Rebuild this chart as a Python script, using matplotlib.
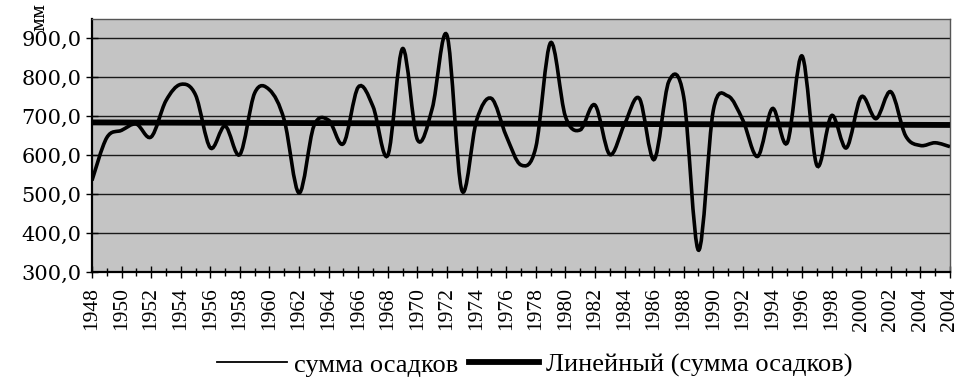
import numpy as np
import matplotlib
matplotlib.use("Agg")
import matplotlib.pyplot as plt
from matplotlib.path import Path
from matplotlib.patches import PathPatch
from matplotlib.lines import Line2D

# annual precipitation sum (mm), one value per category on the x axis
precip = [
    535, 645, 664, 680, 647, 740, 782, 755, 619, 675,
    602, 760, 768, 690, 503, 675, 690, 630, 775, 725,
    600, 874, 640, 720, 908, 510, 690, 746, 650, 575,
    620, 889, 700, 665, 729, 602, 680, 746, 589, 790,
    750, 356, 715, 752, 690, 597, 720, 632, 855, 574,
    702, 619, 750, 694, 763, 650, 625, 632, 622,
]

# category labels as printed under the axis (every second category)
tick_labels = [
    "1948", "1950", "1952", "1954", "1956", "1958", "1960", "1962",
    "1964", "1966", "1968", "1970", "1972", "1974", "1976", "1978",
    "1980", "1982", "1984", "1986", "1988", "1990", "1992", "1994",
    "1996", "1998", "2000", "2002", "2004", "2004",
]

y_ticks = [300, 400, 500, 600, 700, 800, 900]
y_tick_labels = ["300,0", "400,0", "500,0", "600,0", "700,0", "800,0", "900,0"]

series_name = "сумма осадков"
trend_name = "Линейный (сумма осадков)"


def smooth_path(x, y):
    """
    Excel-like smoothed line: cubic bezier through every point
    (catmull-rom control points).
    """
    pts = np.column_stack([x, y]).astype(float)
    n = len(pts)
    verts = [pts[0]]
    codes = [Path.MOVETO]
    for i in range(n - 1):
        p0 = pts[max(i - 1, 0)]
        p1 = pts[i]
        p2 = pts[i + 1]
        p3 = pts[min(i + 2, n - 1)]
        c1 = p1 + (p2 - p0) / 6.0
        c2 = p2 - (p3 - p1) / 6.0
        verts += [c1, c2, p2]
        codes += [Path.CURVE4, Path.CURVE4, Path.CURVE4]
    return Path(verts, codes)


def main():
    plt.rcParams["font.family"] = ["Liberation Serif", "DejaVu Serif"]

    x = np.arange(len(precip))
    vals = np.array(precip, dtype=float)

    fig = plt.figure(figsize=(9.67, 3.83), dpi=100)
    ax = fig.add_axes([0.0951, 0.2898, 0.8873, 0.6606])
    ax.set_facecolor("#c4c4c4")

    # grid
    ax.set_ylim(300, 950)
    ax.set_xlim(0, len(precip) - 1)
    ax.set_yticks(y_ticks)
    ax.set_yticklabels(y_tick_labels, fontfamily="DejaVu Serif", fontsize=15)
    ax.grid(axis="y", color="#1a1a1a", linewidth=1.0)
    ax.set_axisbelow(True)

    # data line (smoothed)
    patch = PathPatch(smooth_path(x, vals), facecolor="none",
                      edgecolor="black", linewidth=2.6, zorder=3)
    ax.add_patch(patch)

    # linear trend
    k, b = np.polyfit(x, vals, 1)
    ax.plot([x[0], x[-1]], [k * x[0] + b, k * x[-1] + b],
            color="black", linewidth=4.2, solid_capstyle="butt", zorder=4)

    # x axis: label on every second category, small tick on every one
    ax.set_xticks(x[::2])
    ax.set_xticklabels(tick_labels, rotation=90, fontsize=15.5)
    ax.set_xticks(x, minor=True)
    ax.tick_params(axis="x", which="major", direction="inout", length=8,
                   width=1, pad=7)
    ax.tick_params(axis="x", which="minor", direction="inout", length=6,
                   width=1)
    ax.tick_params(axis="y", direction="inout", length=9, width=1, pad=3)

    for side in ["left", "bottom"]:
        ax.spines[side].set_linewidth(1.6)
        ax.spines[side].set_color("black")
    for side in ["top", "right"]:
        ax.spines[side].set_linewidth(1.0)
        ax.spines[side].set_color("#555555")

    # units label, rotated in the top-left corner
    fig.text(0.041, 0.955, "мм", rotation=90, ha="center", va="center",
             fontsize=13, fontfamily="DejaVu Serif")

    handles = [
        Line2D([], [], color="black", linewidth=1.3),
        Line2D([], [], color="black", linewidth=4.2),
    ]
    fig.legend(handles, [series_name, trend_name], loc="center",
               bbox_to_anchor=(0.553, 0.047), ncol=2, frameon=False,
               fontsize=19, handlelength=2.65, handletextpad=0.27,
               columnspacing=0.4, borderpad=0)

    plt.savefig("out.png", dpi=100)


if __name__ == "__main__":
    main()
